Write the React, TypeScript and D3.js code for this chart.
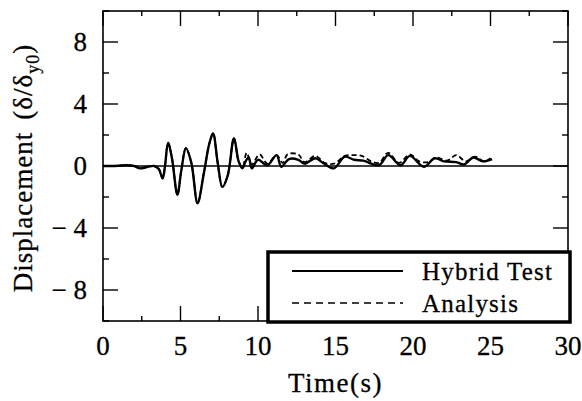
import React, { useEffect, useRef } from "react"
import * as d3 from "d3"

// values (time in s, displacement in δ/δy0)
const hybridTime = [0, 0.5, 1, 1.5, 2, 2.4, 2.9, 3.3, 3.6, 3.85, 4.0, 4.2, 4.45, 4.8, 5.05, 5.35, 5.7, 6.1, 6.5, 6.85, 7.1, 7.4, 7.7, 8.05, 8.45, 8.75, 9.0, 9.2, 9.4, 9.6, 10.0, 10.6, 11.2, 11.5, 12.0, 12.6, 13.0, 13.7, 14.2, 14.9, 15.6, 16.2, 16.8, 17.8, 18.4, 19.2, 19.8, 20.7, 21.4, 22.0, 22.8, 23.3, 23.9, 24.5, 25.1]
const hybridDisp = [0, 0, 0.02, 0.05, 0, -0.15, -0.05, 0, -0.2, -0.8, 0, 1.5, 0.5, -1.85, -0.3, 1.15, 0.2, -2.4, -0.5, 1.4, 2.1, 0.2, -1.35, -0.6, 1.8, 0.3, -0.15, 0.3, 0.55, -0.15, 0.4, 0.05, 0.7, -0.05, 0.45, 0.4, 0.15, 0.5, 0.2, -0.15, 0.6, 0.4, 0.35, 0.05, 0.7, 0.05, 0.65, -0.05, 0.5, 0.3, 0.25, 0.1, 0.55, 0.3, 0.45]

const analysisTime = [0, 0.5, 1, 1.5, 2, 2.4, 2.9, 3.3, 3.6, 3.85, 4.0, 4.2, 4.45, 4.8, 5.05, 5.35, 5.7, 6.1, 6.5, 6.85, 7.1, 7.4, 7.7, 8.05, 8.45, 8.75, 9.0, 9.27, 9.6, 10.1, 10.6, 11.2, 11.6, 11.9, 12.6, 13.0, 13.7, 14.3, 14.9, 15.6, 16.0, 16.7, 17.3, 17.8, 18.4, 19.1, 19.8, 20.4, 21.0, 21.5, 22.2, 22.8, 23.4, 24.0, 24.6, 25.0]
const analysisDisp = [0, 0, 0.02, 0.05, 0, -0.15, -0.05, 0, -0.2, -0.8, 0, 1.5, 0.5, -1.85, -0.3, 1.15, 0.2, -2.4, -0.5, 1.4, 2.1, 0.2, -1.35, -0.6, 1.8, 0.3, -0.1, 0.85, 0.1, 0.75, 0.15, 0.7, 0.2, 0.75, 0.75, 0.25, 0.65, 0.2, 0.15, 0.65, 0.7, 0.65, 0.3, 0.2, 0.85, 0.2, 0.75, 0.3, 0.25, 0.55, 0.35, 0.7, 0.3, 0.6, 0.3, 0.5]

const xTicks = [0, 5, 10, 15, 20, 25, 30]
const yTicks = [-8, -4, 0, 4, 8]
const legendLabels = ["Hybrid Test", "Analysis"]

const W = 582, H = 401
const margin = {top: 11, right: 14, bottom: 80, left: 103}
const FONT = "'Liberation Serif', 'Times New Roman', serif"

const App = () => {
    const ref = useRef<SVGSVGElement>(null)

    useEffect(() => {
        document.body.style.margin = "0"
        const svg = d3.select(ref.current)
        svg.selectAll("*").remove()

        const x = d3.scaleLinear().domain([0, 30]).range([margin.left, W - margin.right])
        const y = d3.scaleLinear().domain([-10, 10]).range([H - margin.bottom, margin.top])

        const line = d3.line<[number, number]>()
            .x(d => x(d[0]))
            .y(d => y(d[1]))
            .curve(d3.curveCatmullRom.alpha(0.5))

        // zero line
        svg.append("line")
            .attr("x1", x(0)).attr("x2", x(30))
            .attr("y1", y(0)).attr("y2", y(0))
            .attr("stroke", "#000").attr("stroke-width", 1.5)

        const analysis = analysisTime.map((t, i) => [t, analysisDisp[i]] as [number, number])
        const hybrid = hybridTime.map((t, i) => [t, hybridDisp[i]] as [number, number])

        svg.append("path").datum(analysis)
            .attr("d", line)
            .attr("fill", "none").attr("stroke", "#000")
            .attr("stroke-width", 1.8).attr("stroke-dasharray", "5,3")

        svg.append("path").datum(hybrid)
            .attr("d", line)
            .attr("fill", "none").attr("stroke", "#000")
            .attr("stroke-width", 2.4)

        // frame
        svg.append("rect")
            .attr("x", x(0)).attr("y", y(10))
            .attr("width", x(30) - x(0)).attr("height", y(-10) - y(10))
            .attr("fill", "none").attr("stroke", "#000").attr("stroke-width", 1.6)

        // ticks on all four sides
        const tk = svg.append("g").attr("stroke", "#000").attr("stroke-width", 1.4)
        d3.range(0, 30.01, 2.5).forEach(t => {
            const len = t % 5 === 0 ? 15 : 5
            tk.append("line").attr("x1", x(t)).attr("x2", x(t)).attr("y1", y(-10)).attr("y2", y(-10) - len)
            tk.append("line").attr("x1", x(t)).attr("x2", x(t)).attr("y1", y(10)).attr("y2", y(10) + len)
        })
        d3.range(-10, 10.01, 2).forEach(v => {
            const len = v % 4 === 0 ? 15 : 6
            tk.append("line").attr("x1", x(0)).attr("x2", x(0) + len).attr("y1", y(v)).attr("y2", y(v))
            tk.append("line").attr("x1", x(30)).attr("x2", x(30) - len).attr("y1", y(v)).attr("y2", y(v))
        })

        // tick labels
        svg.append("g").selectAll("text").data(xTicks).enter().append("text")
            .attr("x", d => x(d)).attr("y", y(-10) + 34)
            .attr("text-anchor", "middle")
            .attr("font-family", FONT).attr("font-size", 27)
            .attr("stroke", "#000").attr("stroke-width", 0.3)
            .text(d => String(d))

        svg.append("g").selectAll("text").data(yTicks).enter().append("text")
            .attr("x", x(0) - 16).attr("y", d => y(d)).attr("dy", "0.35em")
            .attr("text-anchor", "end")
            .attr("font-family", FONT).attr("font-size", 27)
            .attr("stroke", "#000").attr("stroke-width", 0.3)
            .text(d => d < 0 ? "\u2212 " + Math.abs(d) : String(d))

        // axis titles
        svg.append("text")
            .attr("x", (x(0) + x(30)) / 2).attr("y", 392)
            .attr("text-anchor", "middle")
            .attr("font-family", FONT).attr("font-size", 27).attr("letter-spacing", 1.5)
            .attr("stroke", "#000").attr("stroke-width", 0.3)
            .text("Time(s)")

        const yt = svg.append("text")
            .attr("transform", `translate(32,${(y(-10) + y(10)) / 2 + 2}) rotate(-90)`)
            .attr("text-anchor", "middle")
            .attr("font-family", FONT).attr("font-size", 27).attr("letter-spacing", 1)
            .attr("stroke", "#000").attr("stroke-width", 0.3)
        yt.append("tspan").text("Displacement")
        yt.append("tspan").attr("dx", 12).text("(\u03b4/\u03b4")
        yt.append("tspan").attr("font-size", 18).attr("dy", 7).text("y0")
        yt.append("tspan").attr("dy", -7).text(")")

        // legend
        const lg = svg.append("g")
        lg.append("rect")
            .attr("x", 268).attr("y", 252).attr("width", 302).attr("height", 70)
            .attr("fill", "#fff").attr("stroke", "#000").attr("stroke-width", 3.5)
        legendLabels.forEach((lab, i) => {
            const ly = 271 + i * 32
            lg.append("line")
                .attr("x1", 292).attr("x2", 403).attr("y1", ly).attr("y2", ly)
                .attr("stroke", "#000").attr("stroke-width", i === 0 ? 1.8 : 1.6)
                .attr("stroke-dasharray", i === 0 ? null : "7,5")
            lg.append("text")
                .attr("x", 422).attr("y", ly + 9)
                .attr("font-family", FONT).attr("font-size", 25).attr("letter-spacing", 1.2)
                .attr("stroke", "#000").attr("stroke-width", 0.3)
                .text(lab)
        })
    }, [])

    return (
        <svg ref={ref} width={W} height={H} style={{display: "block", background: "#fff"}} />
    )
}

export default App
